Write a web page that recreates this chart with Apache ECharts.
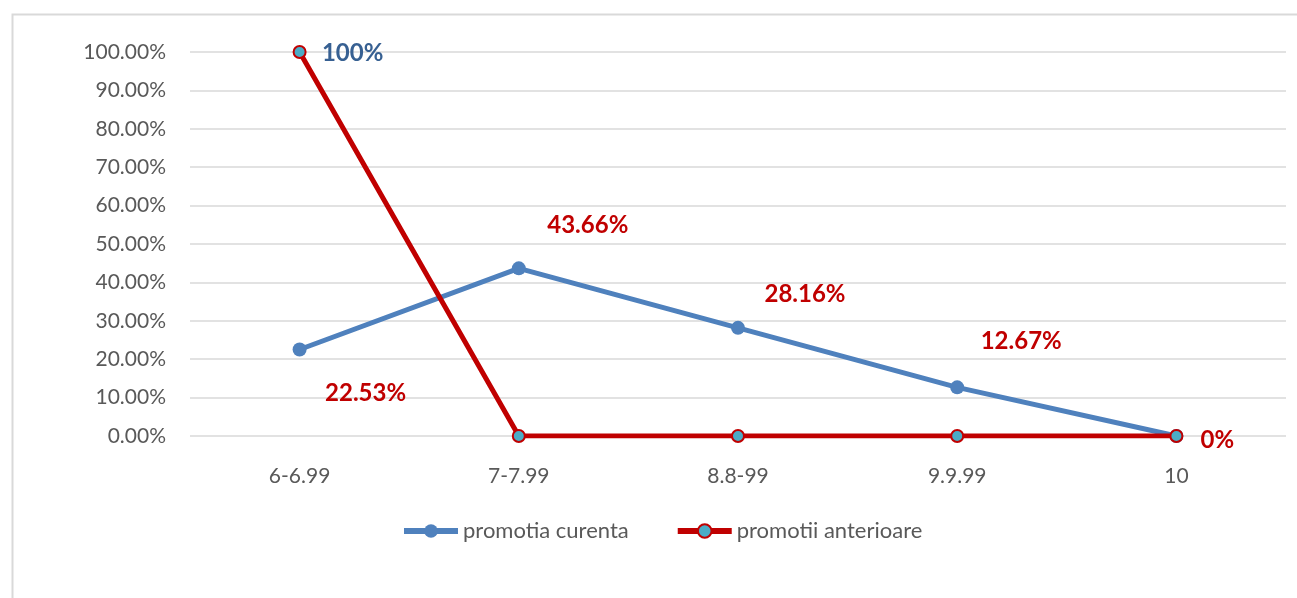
<!DOCTYPE html>
<html>
<head>
<meta charset="utf-8">
<script src="https://cdn.jsdelivr.net/npm/echarts@6/dist/echarts.min.js"></script>
<style>html,body{margin:0;padding:0;background:#fff;}#c{width:1297px;height:598px;}</style>
</head>
<body>
<div id="c"></div>
<script>
var categories = ['6-6.99', '7-7.99', '8.8-99', '9.9.99', '10'];
var curenta = [22.53, 43.66, 28.16, 12.67, 0];
var anterioare = [100, 0, 0, 0, 0];
var seriesNames = ['promotia curenta', 'promotii anterioare'];

var FONT = 'Lato, "Open Sans", sans-serif';
var blueOffsets = [[66, 44], [69, -43], [67, -34], [64, -46], [41, 4]];

var chart = echarts.init(document.getElementById('c'));
chart.setOption({
  animation: false,
  backgroundColor: '#fff',
  graphic: [{
    type: 'rect', left: 10, top: 12,
    shape: { width: 1400, height: 700 },
    style: { fill: 'none', stroke: '#D9D9D9', lineWidth: 2 },
    silent: true, z: -1
  }],
  grid: { left: 190, right: 11, top: 52, bottom: 162, containLabel: false },
  legend: {
    top: 515, left: 396,
    itemWidth: 54, itemHeight: 17, itemGap: 46,
    lineStyle: { width: 6 },
    textStyle: { fontFamily: FONT, fontSize: 22, color: '#595959' },
    data: seriesNames
  },
  xAxis: {
    type: 'category', data: categories, boundaryGap: true,
    axisLine: { show: false }, axisTick: { show: false },
    axisLabel: { fontFamily: FONT, fontSize: 21, color: '#595959', margin: 30 }
  },
  yAxis: {
    type: 'value', min: 0, max: 100, interval: 10,
    axisLine: { show: false }, axisTick: { show: false },
    axisLabel: { fontFamily: FONT, fontSize: 21, color: '#595959', margin: 24,
      formatter: function (v) { return v.toFixed(2) + '%'; } },
    splitLine: { lineStyle: { color: '#D9D9D9', width: 1.5 } }
  },
  series: [{
    name: seriesNames[0], type: 'line', data: curenta.map(function (v, i) {
      return { value: v, label: { offset: blueOffsets[i] } };
    }),
    symbol: 'circle', symbolSize: 14,
    lineStyle: { color: '#4F81BD', width: 5 },
    itemStyle: { color: '#4F81BD' },
    label: { show: true, position: 'inside', color: '#C00000', fontWeight: 'bold',
      fontFamily: FONT, fontSize: 24,
      formatter: function (p) { return p.value + '%'; } },
    z: 2
  }, {
    name: seriesNames[1], type: 'line', data: anterioare.map(function (v, i) {
      return i === 0 ? { value: v, label: { show: true, offset: [53, 1] } } : v;
    }),
    symbol: 'circle', symbolSize: 12,
    lineStyle: { color: '#C00000', width: 5 },
    itemStyle: { color: '#4BACC6', borderColor: '#C00000', borderWidth: 2 },
    label: { show: false, position: 'inside', color: '#376092', fontWeight: 'bold',
      fontFamily: FONT, fontSize: 24,
      formatter: function (p) { return p.value + '%'; } },
    z: 3
  }]
});
</script>
</body>
</html>
